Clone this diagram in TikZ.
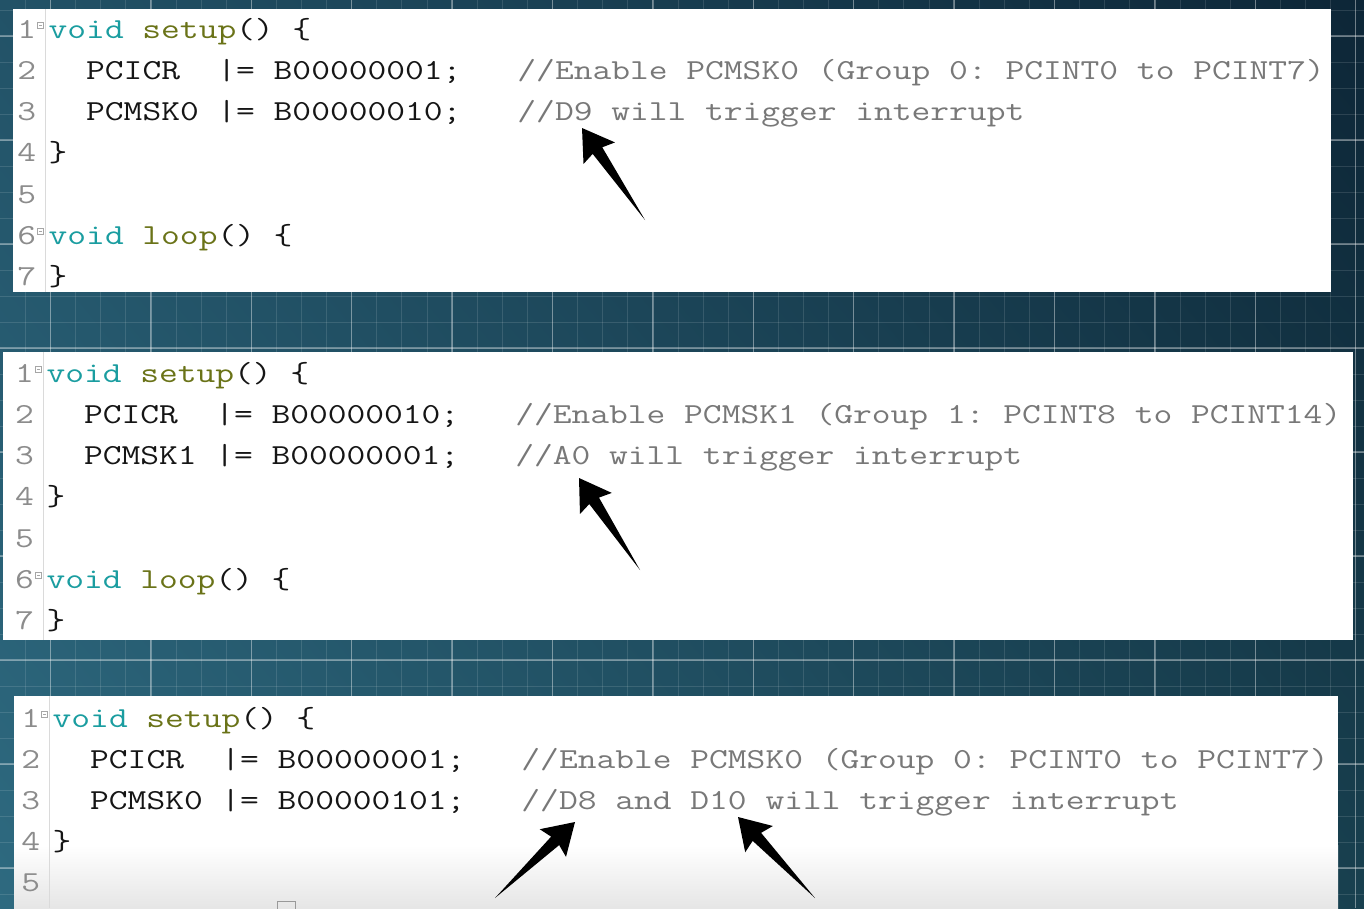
\documentclass[tikz,border=0pt]{standalone}
\usepackage{graphicx}
\usetikzlibrary{calc,shadings}
\definecolor{ardteal}{HTML}{1A9DA0}
\definecolor{ardolive}{HTML}{6A7318}
\definecolor{cmtgray}{HTML}{787878}
\definecolor{lngray}{HTML}{8C8C8C}
\definecolor{codeblk}{HTML}{151515}
\definecolor{gutgray}{HTML}{DADADA}
\definecolor{bgUL}{HTML}{225267}
\definecolor{bgUR}{HTML}{0D2637}
\definecolor{bgLL}{HTML}{2E6A80}
\definecolor{bgLR}{HTML}{18404F}
\newcounter{tokc}
\def\rowsp{41.3}
\def\pitch{18.75}
\newcommand\ctok[4]{%
  \stepcounter{tokc}%
  \node[codetok, text=#3] (tok\arabic{tokc}) at (#1*\pitch, #2*\rowsp) {\scalebox{1.257}[1]{#4}};}
\newcommand\foldmark[1]{%
  \draw[foldbox] (-11, #1*\rowsp-16) rectangle (-5, #1*\rowsp-10);
  \draw[foldbox] (-9.5, #1*\rowsp-13) -- (-6.5, #1*\rowsp-13);}
\newcommand\fatarrow[2]{%
  \fill[black] (#1) -- ($(#1)!36pt!32:(#2)$) -- ($(#1)!28pt!12:(#2)$) -- (#2)
    -- ($(#1)!28pt!-12:(#2)$) -- ($(#1)!36pt!-32:(#2)$) -- cycle;}
\tikzset{
  codetok/.style={anchor=base west, inner sep=0pt, outer sep=0pt,
    font=\fontsize{29}{30}\selectfont\ttfamily\frenchspacing},
  panel/.style={fill=white, draw=none},
  gutter/.style={draw=gutgray, line width=1pt},
  foldbox/.style={draw=black!35, line width=0.7pt},
  gridmajor/.style={draw=white, opacity=0.33, line width=1.3pt},
  gridminor/.style={draw=white, opacity=0.12, line width=0.9pt},
}
\begin{document}
\begin{tikzpicture}[x=1pt, y=-1pt]
\useasboundingbox (0,0) rectangle (1364,908);
% background
\shade[upper left=bgUL, upper right=bgUR, lower left=bgLL, lower right=bgLR] (0,0) rectangle (1364,908);
\begin{scope}
\clip (0,0) rectangle (1364,908);
\foreach \k in {0,...,54} {\draw[gridminor] (50.5+25.1*\k-25.1,0) -- (50.5+25.1*\k-25.1,908);}
\foreach \k in {0,...,35} {\draw[gridminor] (0,10+26*\k) -- (1364,10+26*\k);}
\foreach \k in {0,...,13} {\draw[gridmajor] (50.5+100.4*\k,0) -- (50.5+100.4*\k,908);}
\foreach \k in {0,...,8} {\draw[gridmajor] (0,36+104*\k) -- (1364,36+104*\k);}
\end{scope}

% ---------------- panel 1
\fill[panel] (13,9) rectangle (1331,292);
\draw[gutter] (45.5,9) -- (45.5,292);
\begin{scope}[shift={(48.7,38)}]
\foreach \n [count=\r from 0] in {1,...,7} {\ctok{-1.667}{\r}{lngray}{\n}}
\foldmark{0}\foldmark{5}
\ctok{0}{0}{ardteal}{void}\ctok{5}{0}{ardolive}{setup}\ctok{10}{0}{codeblk}{()}\ctok{13}{0}{codeblk}{\{}
\ctok{2}{1}{codeblk}{PCICR}\ctok{9}{1}{codeblk}{|=}\ctok{12}{1}{codeblk}{B00000001;}
\ctok{25}{1}{cmtgray}{//Enable PCMSK0 (Group 0: PCINT0 to PCINT7)}
\ctok{2}{2}{codeblk}{PCMSK0}\ctok{9}{2}{codeblk}{|=}\ctok{12}{2}{codeblk}{B00000010;}
\ctok{25}{2}{cmtgray}{//D9 will trigger interrupt}
\ctok{0}{3}{codeblk}{\}}
\ctok{0}{5}{ardteal}{void}\ctok{5}{5}{ardolive}{loop}\ctok{9}{5}{codeblk}{()}\ctok{12}{5}{codeblk}{\{}
\ctok{0}{6}{codeblk}{\}}
\end{scope}

% ---------------- panel 2
\fill[panel] (3,352) rectangle (1353,640);
\draw[gutter] (43.5,352) -- (43.5,640);
\begin{scope}[shift={(46.5,382)}]
\foreach \n [count=\r from 0] in {1,...,7} {\ctok{-1.667}{\r}{lngray}{\n}}
\foldmark{0}\foldmark{5}
\ctok{0}{0}{ardteal}{void}\ctok{5}{0}{ardolive}{setup}\ctok{10}{0}{codeblk}{()}\ctok{13}{0}{codeblk}{\{}
\ctok{2}{1}{codeblk}{PCICR}\ctok{9}{1}{codeblk}{|=}\ctok{12}{1}{codeblk}{B00000010;}
\ctok{25}{1}{cmtgray}{//Enable PCMSK1 (Group 1: PCINT8 to PCINT14)}
\ctok{2}{2}{codeblk}{PCMSK1}\ctok{9}{2}{codeblk}{|=}\ctok{12}{2}{codeblk}{B00000001;}
\ctok{25}{2}{cmtgray}{//A0 will trigger interrupt}
\ctok{0}{3}{codeblk}{\}}
\ctok{0}{5}{ardteal}{void}\ctok{5}{5}{ardolive}{loop}\ctok{9}{5}{codeblk}{()}\ctok{12}{5}{codeblk}{\{}
\ctok{0}{6}{codeblk}{\}}
\end{scope}

% ---------------- panel 3
\fill[panel] (14,696) rectangle (1338,908);
\shade[top color=white, bottom color=black!10] (14,845) rectangle (1338,908);
\draw[gutter] (49.5,696) -- (49.5,908);
\draw[draw=black!40, line width=1pt] (277.5,901) rectangle (295.5,912);
\def\rowsp{41}
\begin{scope}[shift={(52.7,727)}]
\foreach \n [count=\r from 0] in {1,...,5} {\ctok{-1.667}{\r}{lngray}{\n}}
\foldmark{0}
\ctok{0}{0}{ardteal}{void}\ctok{5}{0}{ardolive}{setup}\ctok{10}{0}{codeblk}{()}\ctok{13}{0}{codeblk}{\{}
\ctok{2}{1}{codeblk}{PCICR}\ctok{9}{1}{codeblk}{|=}\ctok{12}{1}{codeblk}{B00000001;}
\ctok{25}{1}{cmtgray}{//Enable PCMSK0 (Group 0: PCINT0 to PCINT7)}
\ctok{2}{2}{codeblk}{PCMSK0}\ctok{9}{2}{codeblk}{|=}\ctok{12}{2}{codeblk}{B00000101;}
\ctok{25}{2}{cmtgray}{//D8 and D10 will trigger interrupt}
\ctok{0}{3}{codeblk}{\}}
\end{scope}

% ---------------- arrows
\coordinate (a1tip) at (582,128);  \coordinate (a1tail) at (645,220);
\coordinate (a2tip) at (579,478);  \coordinate (a2tail) at (640,570);
\coordinate (a3tip) at (575,822);  \coordinate (a3tail) at (495,898);
\coordinate (a4tip) at (738,817);  \coordinate (a4tail) at (815,898);
\fatarrow{a1tip}{a1tail}
\fatarrow{a2tip}{a2tail}
\fatarrow{a3tip}{a3tail}
\fatarrow{a4tip}{a4tail}
\end{tikzpicture}
\end{document}
